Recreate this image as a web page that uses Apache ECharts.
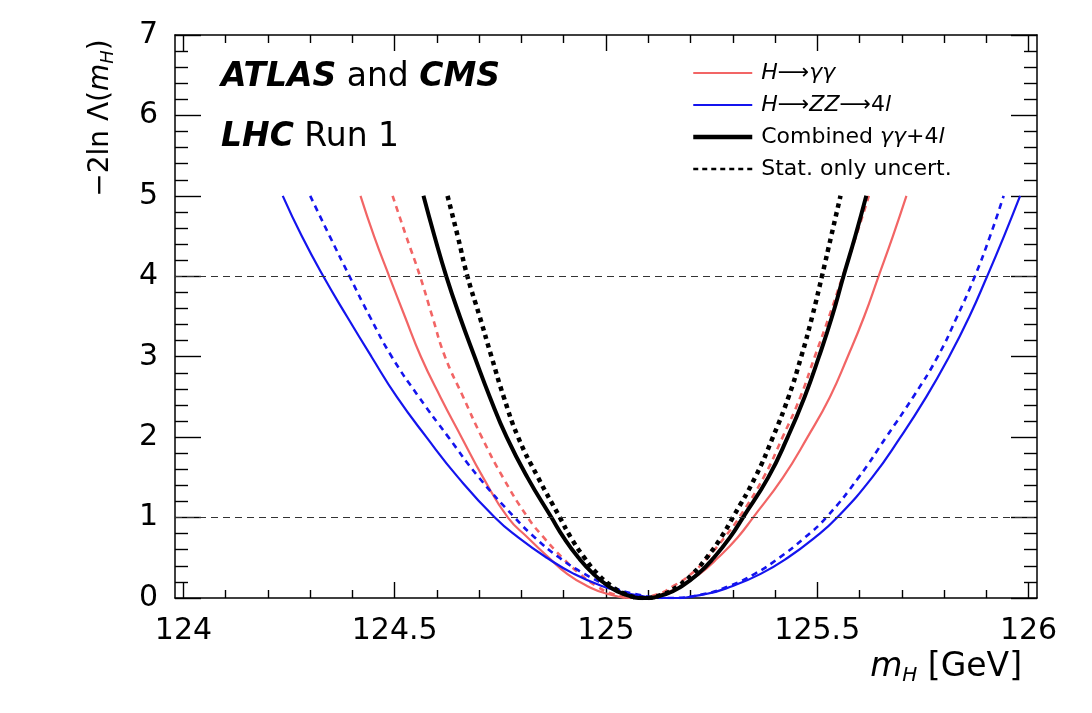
<!DOCTYPE html>
<html>
<head>
<meta charset="utf-8">
<script src="https://cdn.jsdelivr.net/npm/echarts@6/dist/echarts.min.js"></script>
<style>
  html, body { margin: 0; padding: 0; background: #fff; }
  #chart { width: 1092px; height: 713px; }
</style>
</head>
<body>
<div id="chart"></div>
<script>
// -2 ln Lambda(mH) scans as [mH, value]
const ggObs = [[124.419, 5], [124.451, 4.5], [124.487, 4], [124.524, 3.5], [124.562, 3], [124.608, 2.5], [124.658, 2],
  [124.709, 1.5], [124.768, 1], [124.815, 0.75], [124.865, 0.5], [124.908, 0.3], [124.955, 0.15], [125.004, 0.05], [125.07, 0],
  [125.132, 0.05], [125.178, 0.15], [125.222, 0.3], [125.265, 0.5], [125.311, 0.75], [125.348, 1], [125.419, 1.5],
  [125.477, 2], [125.53, 2.5], [125.572, 3], [125.611, 3.5], [125.645, 4], [125.679, 4.5], [125.711, 5]];
const ggStat = [[124.495, 5], [124.527, 4.5], [124.56, 4], [124.589, 3.5], [124.619, 3], [124.662, 2.5], [124.706, 2],
  [124.756, 1.5], [124.815, 1], [124.853, 0.75], [124.897, 0.5], [124.938, 0.3], [124.977, 0.15], [125.016, 0.05], [125.07, 0],
  [125.124, 0.05], [125.16, 0.15], [125.202, 0.3], [125.24, 0.5], [125.28, 0.75], [125.315, 1], [125.373, 1.5],
  [125.418, 2], [125.46, 2.5], [125.494, 3], [125.528, 3.5], [125.56, 4], [125.592, 4.5], [125.622, 5]];
const zzObs = [[124.235, 5], [124.28, 4.5], [124.331, 4], [124.387, 3.5], [124.445, 3], [124.505, 2.5], [124.575, 2],
  [124.65, 1.5], [124.737, 1], [124.793, 0.75], [124.86, 0.5], [124.924, 0.3], [124.99, 0.15], [125.058, 0.05], [125.15, 0],
  [125.237, 0.05], [125.30, 0.15], [125.366, 0.3], [125.43, 0.5], [125.494, 0.75], [125.547, 1], [125.63, 1.5],
  [125.697, 2], [125.758, 2.5], [125.812, 3], [125.86, 3.5], [125.902, 4], [125.942, 4.5], [125.98, 5]];
const zzStat = [[124.30, 5], [124.346, 4.5], [124.393, 4], [124.441, 3.5], [124.493, 3], [124.557, 2.5], [124.627, 2],
  [124.699, 1.5], [124.784, 1], [124.832, 0.75], [124.89, 0.5], [124.949, 0.3], [125.008, 0.15], [125.068, 0.05], [125.15, 0],
  [125.232, 0.05], [125.292, 0.15], [125.352, 0.3], [125.41, 0.5], [125.47, 0.75], [125.521, 1], [125.598, 1.5],
  [125.663, 2], [125.727, 2.5], [125.785, 3], [125.831, 3.5], [125.873, 4], [125.909, 4.5], [125.941, 5]];
const combObs = [[124.568, 5], [124.594, 4.5], [124.622, 4], [124.654, 3.5], [124.689, 3], [124.725, 2.5], [124.765, 2],
  [124.814, 1.5], [124.871, 1], [124.90, 0.75], [124.935, 0.5], [124.97, 0.3], [125.005, 0.15], [125.041, 0.05], [125.09, 0],
  [125.142, 0.05], [125.18, 0.15], [125.218, 0.3], [125.255, 0.5], [125.293, 0.75], [125.324, 1], [125.384, 1.5],
  [125.43, 2], [125.47, 2.5], [125.504, 3], [125.535, 3.5], [125.562, 4], [125.59, 4.5], [125.616, 5]];
const combStat = [[124.625, 5], [124.649, 4.5], [124.672, 4], [124.701, 3.5], [124.729, 3], [124.758, 2.5], [124.792, 2],
  [124.839, 1.5], [124.891, 1], [124.917, 0.75], [124.949, 0.5], [124.98, 0.3], [125.013, 0.15], [125.045, 0.05], [125.09, 0],
  [125.137, 0.05], [125.171, 0.15], [125.205, 0.3], [125.238, 0.5], [125.272, 0.75], [125.30, 1], [125.353, 1.5],
  [125.395, 2], [125.432, 2.5], [125.462, 3], [125.488, 3.5], [125.511, 4], [125.533, 4.5], [125.555, 5]];
const refLevels = [1, 4];
const xMajor = [124, 124.5, 125, 125.5, 126];
const xMinor = [124.1, 124.2, 124.3, 124.4, 124.6, 124.7, 124.8, 124.9, 125.1, 125.2, 125.3, 125.4,
  125.6, 125.7, 125.8, 125.9];

const FONT = "'DejaVu Sans', sans-serif";
const RED = '#f26565';
const BLUE = '#1414ee';

let chart = echarts.init(document.getElementById('chart'));

// x axes: major and minor ticks on bottom and top
function xAx(pos, values, len, labels) {
  return {
    type: 'value', position: pos, min: 123.98, max: 126.02,
    axisLine: { show: len > 10, lineStyle: { color: '#000', width: 1.5 } },
    axisTick: { show: true, inside: true, length: len, customValues: values, lineStyle: { color: '#000', width: 1.4 } },
    axisLabel: labels
      ? { show: true, customValues: values, fontSize: 30, fontFamily: FONT, color: '#000', margin: 18 }
      : { show: false },
    splitLine: { show: false }
  };
}
function yAx(pos, labels) {
  return {
    type: 'value', position: pos, min: 0, max: 7, interval: 1,
    axisLine: { show: true, lineStyle: { color: '#000', width: 1.5 } },
    axisTick: { show: true, inside: true, length: 26, lineStyle: { color: '#000', width: 1.4 } },
    minorTick: { show: true, splitNumber: 5, length: 13, lineStyle: { color: '#000', width: 1.4 } },
    axisLabel: { show: labels, fontSize: 30, fontFamily: FONT, color: '#000', margin: 17 },
    splitLine: { show: false }
  };
}

function scan(name, data, color, width, dash) {
  return {
    name: name, type: 'line', data: data, xAxisIndex: 0, yAxisIndex: 0,
    smooth: 0.5, symbol: 'none', clip: true,
    lineStyle: { color: color, width: width, type: dash || 'solid' },
    itemStyle: { color: color },
    z: 3
  };
}

const legendText = {
  'H→γγ': '{i|H}⟶{i|γγ}',
  'H→ZZ→4l': '{i|H}⟶{i|ZZ}⟶4{i|l}',
  'Combined γγ+4l': 'Combined {i|γγ}+4{i|l}',
  'Stat. only uncert.': 'Stat. only uncert.'
};

let series = [
  scan('H→γγ', ggObs, RED, 2.2),
  scan('γγ stat', ggStat, RED, 2.6, [6, 5]),
  scan('H→ZZ→4l', zzObs, BLUE, 2.2),
  scan('ZZ stat', zzStat, BLUE, 2.6, [6, 5]),
  scan('Combined γγ+4l', combObs, '#000', 4),
  scan('Stat. only uncert.', combStat, '#000', 4.5, [4.5, 4.5])
];
series[0].markLine = {
  silent: true, symbol: 'none', label: { show: false },
  lineStyle: { color: '#333', width: 1.2, type: [7, 5] },
  data: refLevels.map(v => ({ yAxis: v }))
};

chart.setOption({
  backgroundColor: '#fff',
  animation: false,
  grid: { left: 175, right: 55, top: 35, bottom: 115, outerBoundsMode: 'none', containLabel: false },
  xAxis: [
    xAx('bottom', xMajor, 16, true),
    xAx('bottom', xMinor, 8, false),
    xAx('top', xMajor, 16, false),
    xAx('top', xMinor, 8, false)
  ],
  yAxis: [yAx('left', true), yAx('right', false)],
  legend: {
    orient: 'vertical', left: 686, top: 56,
    itemWidth: 59, itemHeight: 14, itemGap: 8,
    itemStyle: { opacity: 0 },
    data: [
      { name: 'H→γγ', lineStyle: { width: 2 } },
      { name: 'H→ZZ→4l', lineStyle: { width: 2 } },
      { name: 'Combined γγ+4l', lineStyle: { width: 4.5 } },
      { name: 'Stat. only uncert.', lineStyle: { width: 2.6, type: [5, 4] } }
    ],
    formatter: name => legendText[name],
    textStyle: {
      fontSize: 22, fontFamily: FONT, color: '#000', lineHeight: 24, padding: [0, 0, 0, 4],
      rich: { i: { fontSize: 22, fontFamily: FONT, fontStyle: 'italic', color: '#000' } }
    }
  },
  graphic: [
    {
      type: 'text', x: 221, y: 61,
      style: {
        text: '{b|ATLAS} and {b|CMS}', fontSize: 33, fontFamily: FONT, fill: '#000',
        rich: { b: { fontSize: 33, fontFamily: FONT, fontWeight: 'bold', fontStyle: 'italic' } }
      }
    },
    {
      type: 'text', x: 221, y: 121,
      style: {
        text: '{b|LHC} Run 1', fontSize: 33, fontFamily: FONT, fill: '#000',
        rich: { b: { fontSize: 33, fontFamily: FONT, fontWeight: 'bold', fontStyle: 'italic' } }
      }
    },
    {
      type: 'text', x: 101, y: 118, rotation: Math.PI / 2,
      style: {
        text: '−2ln Λ({m|m}{s|H})', fontSize: 28, fontFamily: FONT, fill: '#000',
        align: 'center', verticalAlign: 'middle',
        rich: {
          m: { fontSize: 28, fontFamily: FONT, fontStyle: 'italic' },
          s: { fontSize: 18, fontFamily: FONT, fontStyle: 'italic', padding: [15, 0, 0, 0] }
        }
      }
    },
    {
      type: 'text', x: 1022, y: 667,
      style: {
        text: '{m|m}{s|H} [GeV]', fontSize: 33, fontFamily: FONT, fill: '#000',
        align: 'right', verticalAlign: 'middle',
        rich: {
          m: { fontSize: 33, fontFamily: FONT, fontStyle: 'italic' },
          s: { fontSize: 20, fontFamily: FONT, fontStyle: 'italic', padding: [17, 0, 0, 0] }
        }
      }
    }
  ],
  series: series
});
</script>
</body>
</html>
